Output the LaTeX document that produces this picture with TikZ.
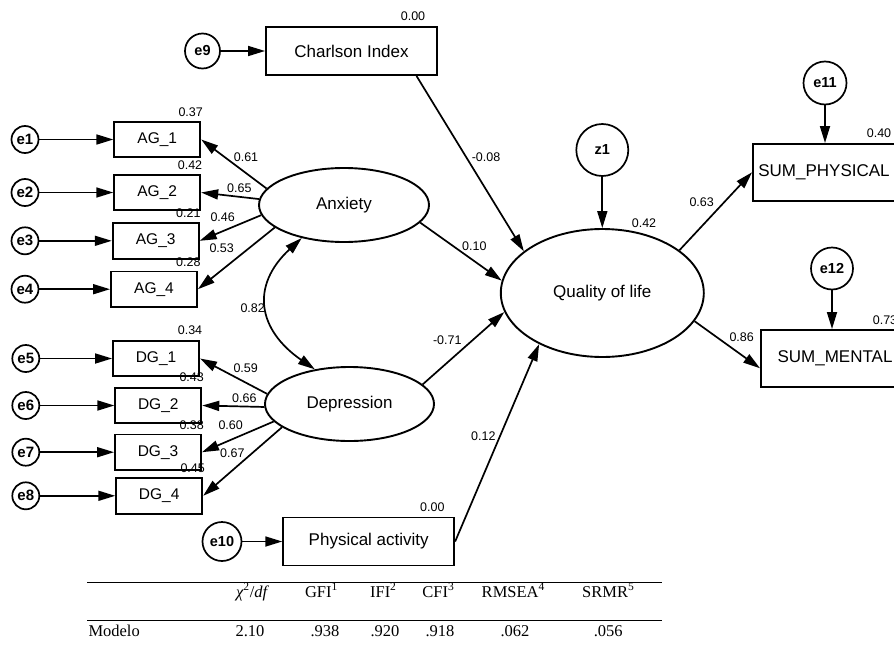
\documentclass[tikz,border=0pt]{standalone}
\usepackage{fontspec}
\setmainfont{Liberation Sans}
\newfontfamily\tmsfont{Liberation Serif}
\usetikzlibrary{arrows.meta,calc,shapes.geometric}
\newcommand\fsz[1]{\fontsize{#1}{#1}\selectfont}
\begin{document}
\begin{tikzpicture}[x=1pt,y=-1pt,
  obs/.style={draw, line width=1.9pt, rectangle, inner sep=0pt, font=\fsz{17}},
  ind/.style={draw, line width=1.9pt, rectangle, inner sep=0pt, minimum width=86pt, minimum height=35.5pt, font=\fsz{15.5}},
  lat/.style={draw, line width=1.9pt, ellipse, inner sep=0pt, font=\fsz{17}},
  errs/.style={draw, line width=1.7pt, circle, inner sep=0pt, minimum size=27pt, font=\bfseries\fsz{15}},
  errb/.style={draw, line width=1.7pt, circle, inner sep=0pt, minimum size=37pt, font=\bfseries\fsz{14.5}},
  num/.style={font=\fsz{12.5}, inner sep=0pt},
  arr/.style={line width=1.7pt, -{Triangle[length=17pt,width=10pt]}},
  darr/.style={line width=1.7pt, {Triangle[length=17pt,width=10pt]}-{Triangle[length=17pt,width=10pt]}},
  tab/.style={font=\tmsfont\fsz{16.5}, anchor=base, inner sep=0pt},
  rulel/.style={line width=1.1pt}
]
\useasboundingbox (0,0) rectangle (894,656);
\fill[white] (0,0) rectangle (894,656);
\clip (0,0) rectangle (894,656);

% latent variables
\node[lat, minimum width=170pt, minimum height=74pt] (anx) at (344,205) {Anxiety};
\node[lat, minimum width=169pt, minimum height=74pt] (dep) at (349.5,404) {Depression};
\node[lat, minimum width=203pt, minimum height=128pt] (qol) at (602.3,293) {Quality of life};

% observed
\node[obs, minimum width=171pt, minimum height=48pt] (ci) at (351.5,51) {Charlson Index};
\node[obs, minimum width=171pt, minimum height=48pt] (pa) at (368.7,541.5) {Physical activity};
\node[obs, minimum width=142pt, minimum height=56.7pt] (sp) at (824,172.3) {SUM\_PHYSICAL};
\node[obs, minimum width=148pt, minimum height=56.7pt] (sm) at (835,358.3) {SUM\_MENTAL};

\node[ind] (ag1) at (157.3,139.5) {AG\_1};
\node[ind] (ag2) at (157.2,192.5) {AG\_2};
\node[ind] (ag3) at (155.7,240.8) {AG\_3};
\node[ind] (ag4) at (154,289.2) {AG\_4};
\node[ind] (dg1) at (156,358.5) {DG\_1};
\node[ind] (dg2) at (158.3,405.5) {DG\_2};
\node[ind] (dg3) at (158,452.2) {DG\_3};
\node[ind] (dg4) at (159.2,495.8) {DG\_4};

% error terms
\node[errs] (e1) at (25,139.5) {e1};
\node[errs] (e2) at (25,192.5) {e2};
\node[errs] (e3) at (25,240.8) {e3};
\node[errs] (e4) at (25,289.2) {e4};
\node[errs] (e5) at (25.8,358.5) {e5};
\node[errs] (e6) at (25.8,405.5) {e6};
\node[errs] (e7) at (25.8,452.2) {e7};
\node[errs] (e8) at (25.8,495.8) {e8};
\node[errb, minimum size=35pt] (e9) at (202.5,51) {e9};
\node[errb, minimum size=39pt] (e10) at (222,541.5) {e10};
\node[errb, minimum size=43pt] (e11) at (825,83) {e11};
\node[errb, minimum size=42pt] (e12) at (832,268.5) {e12};
\node[errb, minimum size=52pt] (z1) at (602.3,150) {z1};

% error arrows
\foreach \e/\t in {e1/ag1,e2/ag2,e3/ag3,e4/ag4,e5/dg1,e6/dg2,e7/dg3,e8/dg4,e9/ci,e10/pa}
  \draw[arr] (\e) -- (\t);
\draw[arr] (e11.south) -- (e11.south |- sp.north);
\draw[arr] (e12.south) -- (e12.south |- sm.north);
\draw[arr] (z1) -- (qol.north);

% loadings
\draw[arr] (anx.168) -- (ag1.east);
\draw[arr] (anx.176) -- (ag2.east);
\draw[arr] (anx.187) -- (ag3.east);
\draw[arr] (anx.198) -- (ag4.east);
\draw[arr] (dep.173) -- (dg1.east);
\draw[arr] (dep.182) -- (dg2.east);
\draw[arr] (dep.193) -- (dg3.east);
\draw[arr] (dep.199) -- (dg4.east);

% structural paths
\draw[arr] (anx.-13.5) -- (qol.173.7);
\draw[arr] (dep.15.5) -- (qol.191.8);
\draw[arr] ($(ci.south)+(65,0)$) -- (qol.152.9);
\draw[arr] (pa.east) -- (qol.219.7);
\draw[arr] (qol.29) -- (sp.west);
\draw[arr] (qol.-17.3) -- ($(sm.west)+(0,10)$);
\draw[darr] (anx.218.2) .. controls (250,286) and (258,330) .. (dep.135.4);

% numbers
\node[num] (n1) at (413,16) {0.00};
\node[num] (n2) at (486,156.7) {-0.08};
\node[num] (n3) at (644,223) {0.42};
\node[num] (n4) at (701.7,201.7) {0.63};
\node[num] (n5) at (741.7,336.7) {0.86};
\node[num] (n6) at (879,133) {0.40};
\node[num] (n7) at (885,320) {0.73};
\node[num] (n8) at (474.3,245.7) {0.10};
\node[num] (n9) at (447.3,340) {-0.71};
\node[num] (n10) at (252.7,308.3) {0.82};
\node[num] (n11) at (483.3,436) {0.12};
\node[num] (n12) at (432.3,506.7) {0.00};
\node[num] (a1) at (190.7,111.7) {0.37};
\node[num] (a2) at (190,165) {0.42};
\node[num] (a3) at (188.3,213.3) {0.21};
\node[num] (a4) at (188.3,261.7) {0.28};
\node[num] (a5) at (246,157.3) {0.61};
\node[num] (a6) at (239.3,188.3) {0.65};
\node[num] (a7) at (222.7,216.7) {0.46};
\node[num] (a8) at (221.7,248.3) {0.53};
\node[num] (d1) at (190,330) {0.34};
\node[num] (d2) at (191.7,377.3) {0.43};
\node[num] (d3) at (191.7,425) {0.38};
\node[num] (d4) at (192.7,468.3) {0.45};
\node[num] (d5) at (245.7,368.3) {0.59};
\node[num] (d6) at (244.3,398.3) {0.66};
\node[num] (d7) at (230.7,425) {0.60};
\node[num] (d8) at (232.3,453.3) {0.67};

% table
\draw[rulel] (87.3,582.7) -- (661.7,582.7);
\draw[rulel] (87.3,620.7) -- (661.7,620.7);
\node[tab] (h1) at (251.7,597) {{\itshape χ}\textsuperscript{2}/{\itshape df}};
\node[tab] (h2) at (321.5,597) {GFI\textsuperscript{1}};
\node[tab] (h3) at (383.3,597) {IFI\textsuperscript{2}};
\node[tab] (h4) at (438.3,597) {CFI\textsuperscript{3}};
\node[tab] (h5) at (513.3,597) {RMSEA\textsuperscript{4}};
\node[tab] (h6) at (608.3,597) {SRMR\textsuperscript{5}};
\node[tab, anchor=base west] (r0) at (88.3,636.5) {Modelo};
\node[tab] (r1) at (250,636.5) {2.10};
\node[tab] (r2) at (325,636.5) {.938};
\node[tab] (r3) at (385,636.5) {.920};
\node[tab] (r4) at (440,636.5) {.918};
\node[tab] (r5) at (515,636.5) {.062};
\node[tab] (r6) at (608.3,636.5) {.056};
\end{tikzpicture}
\end{document}
